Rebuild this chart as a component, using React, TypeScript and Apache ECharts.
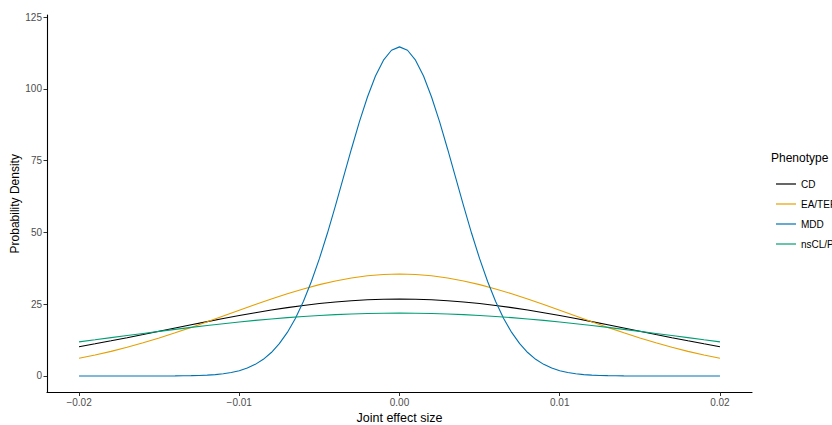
import React, { useEffect, useRef } from "react";
import * as echarts from "echarts";

const seriesNames = ["CD", "EA/TEF", "MDD", "nsCL/P"];
const seriesColors = ["#000000", "#E69F00", "#0072B2", "#009E73"];

const xTickValues = [-0.02, -0.01, 0, 0.01, 0.02];
const xTickLabels = ["\u22120.02", "\u22120.01", "0.00", "0.01", "0.02"];
const yTickValues = [0, 25, 50, 75, 100, 125];

const xCoarse = [
  -0.02, -0.019, -0.018, -0.017, -0.016, -0.015, -0.014, -0.013, -0.012, -0.011,
  -0.01, -0.009, -0.008, -0.007, -0.006, -0.005, -0.004, -0.003, -0.002, -0.001,
  0,
  0.001, 0.002, 0.003, 0.004, 0.005, 0.006, 0.007, 0.008, 0.009, 0.01,
  0.011, 0.012, 0.013, 0.014, 0.015, 0.016, 0.017, 0.018, 0.019, 0.02,
];

const cdValues = [
  10.2, 11.21, 12.26, 13.34, 14.44, 15.57, 16.7, 17.82, 18.93, 20.01,
  21.05, 22.04, 22.96, 23.81, 24.57, 25.23, 25.78, 26.22, 26.54, 26.74,
  26.8,
  26.74, 26.54, 26.22, 25.78, 25.23, 24.57, 23.81, 22.96, 22.04, 21.05,
  20.01, 18.93, 17.82, 16.7, 15.57, 14.44, 13.34, 12.26, 11.21, 10.2,
];

const eaValues = [
  6.15, 7.29, 8.58, 10.0, 11.56, 13.24, 15.04, 16.92, 18.88, 20.89,
  22.9, 24.89, 26.82, 28.64, 30.32, 31.82, 33.1, 34.13, 34.88, 35.34,
  35.5,
  35.34, 34.88, 34.13, 33.1, 31.82, 30.32, 28.64, 26.82, 24.89, 22.9,
  20.89, 18.88, 16.92, 15.04, 13.24, 11.56, 10.0, 8.58, 7.29, 6.15,
];

const nsValues = [
  11.89, 12.62, 13.36, 14.09, 14.82, 15.54, 16.24, 16.92, 17.58, 18.21,
  18.8, 19.35, 19.86, 20.32, 20.73, 21.08, 21.37, 21.6, 21.77, 21.87,
  21.9,
  21.87, 21.77, 21.6, 21.37, 21.08, 20.73, 20.32, 19.86, 19.35, 18.8,
  18.21, 17.58, 16.92, 16.24, 15.54, 14.82, 14.09, 13.36, 12.62, 11.89,
];

const xFine = [
  -0.02, -0.0195, -0.019, -0.0185, -0.018, -0.0175, -0.017, -0.0165, -0.016, -0.0155,
  -0.015, -0.0145, -0.014, -0.0135, -0.013, -0.0125, -0.012, -0.0115, -0.011, -0.0105,
  -0.01, -0.0095, -0.009, -0.0085, -0.008, -0.0075, -0.007, -0.0065, -0.006, -0.0055,
  -0.005, -0.0045, -0.004, -0.0035, -0.003, -0.0025, -0.002, -0.0015, -0.001, -0.0005,
  0,
  0.0005, 0.001, 0.0015, 0.002, 0.0025, 0.003, 0.0035, 0.004, 0.0045, 0.005,
  0.0055, 0.006, 0.0065, 0.007, 0.0075, 0.008, 0.0085, 0.009, 0.0095, 0.01,
  0.0105, 0.011, 0.0115, 0.012, 0.0125, 0.013, 0.0135, 0.014, 0.0145, 0.015,
  0.0155, 0.016, 0.0165, 0.017, 0.0175, 0.018, 0.0185, 0.019, 0.0195, 0.02,
];

const mddValues = [
  0, 0, 0, 0, 0, 0, 0, 0, 0, 0,
  0.01, 0.02, 0.03, 0.06, 0.11, 0.18, 0.3, 0.49, 0.78, 1.21,
  1.85, 2.77, 4.05, 5.81, 8.17, 11.25, 15.17, 20.04, 25.95, 32.89,
  40.85, 49.69, 59.22, 69.13, 79.05, 88.55, 97.16, 104.44, 109.97, 113.42,
  114.6,
  113.42, 109.97, 104.44, 97.16, 88.55, 79.05, 69.13, 59.22, 49.69, 40.85,
  32.89, 25.95, 20.04, 15.17, 11.25, 8.17, 5.81, 4.05, 2.77, 1.85,
  1.21, 0.78, 0.49, 0.3, 0.18, 0.11, 0.06, 0.03, 0.02, 0.01,
  0, 0, 0, 0, 0, 0, 0, 0, 0, 0,
];

const seriesX = [xCoarse, xCoarse, xFine, xCoarse];
const seriesY = [cdValues, eaValues, mddValues, nsValues];

const FONT = "'Liberation Sans', Arial, Helvetica, sans-serif";

export default function App() {
  const ref = useRef<HTMLDivElement>(null);
  useEffect(() => {
    if (!ref.current) return;
    const chart = echarts.init(ref.current, null, { renderer: "svg" });
    chart.setOption({
      animation: false,
      backgroundColor: "#ffffff",
      textStyle: { fontFamily: FONT },
      grid: {
        left: 47,
        right: 80,
        top: 15,
        bottom: 32.5,
        containLabel: false,
        outerBoundsMode: "none",
      },
      xAxis: {
        type: "value",
        min: -0.022,
        max: 0.022,
        name: "Joint effect size",
        nameLocation: "middle",
        nameGap: 18.5,
        nameMoveOverlap: false,
        nameTextStyle: { color: "#000000", fontSize: 12.5, fontFamily: FONT },
        splitLine: { show: false },
        axisLine: { show: true, onZero: false, lineStyle: { color: "#000000", width: 1.1 } },
        axisTick: {
          show: true,
          length: 3.5,
          lineStyle: { color: "#333333", width: 1 },
          customValues: xTickValues,
        },
        axisLabel: {
          color: "#4D4D4D",
          fontSize: 10,
          margin: 5,
          fontFamily: FONT,
          customValues: xTickValues,
          formatter: (v: number) => {
            const i = xTickValues.findIndex((t) => Math.abs(t - v) < 1e-9);
            return i >= 0 ? xTickLabels[i] : "";
          },
        },
      },
      yAxis: {
        type: "value",
        min: -5.75,
        max: 125.7,
        name: "Probability Density",
        nameLocation: "middle",
        nameGap: 26,
        nameRotate: 90,
        nameMoveOverlap: false,
        nameTextStyle: { color: "#000000", fontSize: 12, fontFamily: FONT },
        splitLine: { show: false },
        axisLine: { show: true, onZero: false, lineStyle: { color: "#000000", width: 1.1 } },
        axisTick: {
          show: true,
          length: 3.5,
          lineStyle: { color: "#333333", width: 1 },
          customValues: yTickValues,
        },
        axisLabel: {
          color: "#4D4D4D",
          fontSize: 10,
          margin: 5,
          fontFamily: FONT,
          customValues: yTickValues,
          formatter: (v: number) => String(Math.round(v)),
        },
      },
      legend: {
        orient: "vertical",
        left: 771,
        top: 169,
        itemGap: 0,
        itemWidth: 20,
        itemHeight: 1.2,
        icon: "rect",
        textStyle: { color: "#000000", fontSize: 10, lineHeight: 20, fontFamily: FONT },
        data: seriesNames,
      },
      graphic: [
        {
          type: "text",
          left: 771,
          top: 152,
          style: { text: "Phenotype", fill: "#000000", fontSize: 12, fontFamily: FONT },
        },
      ],
      series: seriesNames.map((name, i) => ({
        name,
        type: "line",
        showSymbol: false,
        symbol: "none",
        smooth: false,
        color: seriesColors[i],
        lineStyle: { color: seriesColors[i], width: 1.1 },
        data: seriesX[i].map((x, j) => [x, seriesY[i][j]]),
      })),
    });
    return () => chart.dispose();
  }, []);
  return (
    <div
      ref={ref}
      style={{ position: "fixed", left: 0, top: 0, width: 832, height: 425 }}
    />
  );
}
